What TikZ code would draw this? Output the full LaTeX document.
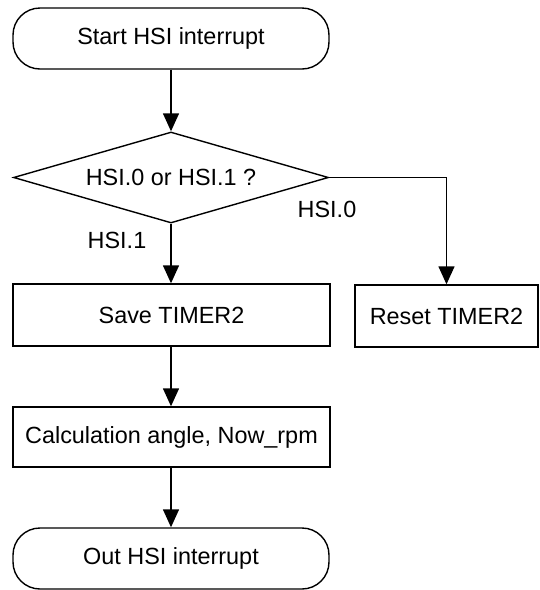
\documentclass[tikz,border=0pt]{standalone}
\usepackage{fontspec}
\setmainfont{Liberation Sans}
\usetikzlibrary{shapes.geometric,arrows.meta}
\begin{document}
\begin{tikzpicture}[x=1pt,y=1pt,
  every node/.style={font=\fontsize{23.4}{28}\selectfont},
  box/.style={draw,line width=1.4pt,rectangle,inner sep=0pt},
  term/.style={box,rounded corners=27pt},
  decision/.style={draw,line width=1.4pt,diamond,aspect=3.46,inner sep=0pt,minimum width=315pt,minimum height=91pt},
  flow/.style={line width=1.4pt,-{Triangle[length=18pt,width=16pt]}},
  lbl/.style={inner sep=0pt}]
\useasboundingbox (0,0) rectangle (540,-590);
\node[term,minimum width=316pt,minimum height=61pt] (start) at (171,-38.5) {Start HSI interrupt};
\node[decision] (dec) at (171,-177.5) {HSI.0 or HSI.1 ?};
\node[box,minimum width=317pt,minimum height=62pt] (save) at (171.5,-315) {Save TIMER2};
\node[box,minimum width=183pt,minimum height=62pt] (reset) at (446.5,-316) {Reset TIMER2};
\node[box,minimum width=317pt,minimum height=60pt] (calc) at (171.5,-437) {Calculation angle, Now\_rpm};
\node[term,minimum width=316pt,minimum height=61pt] (out) at (171,-558.5) {Out HSI interrupt};
\node[lbl] (l0) at (327,-209) {HSI.0};
\node[lbl] (l1) at (117,-240) {HSI.1};
\draw[flow] (start.south) -- (dec.north);
\draw[flow] (dec.south) -- (dec.south |- save.north);
\draw[flow] (dec.east) -| (reset.north);
\draw[flow] (save.south -| dec.south) -- (dec.south |- calc.north);
\draw[flow] (calc.south -| dec.south) -- (dec.south |- out.north);
\end{tikzpicture}
\end{document}
